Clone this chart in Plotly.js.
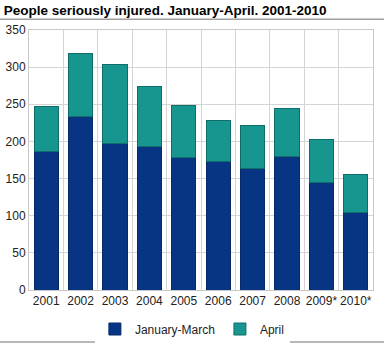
<!DOCTYPE html>
<html>
<head>
<meta charset="utf-8">
<script src="https://cdn.plot.ly/plotly-3.0.1.min.js"></script>
<style>html,body{margin:0;padding:0;background:#fff;}#chart{width:384px;height:355px;}</style>
</head>
<body>
<div id="chart"></div>
<script>
const years = ["2001","2002","2003","2004","2005","2006","2007","2008","2009*","2010*"];
const janMarch = [186, 233, 197, 193, 179, 173, 163, 180, 145, 104];
const april = [61, 85, 106, 81, 69, 55, 59, 64, 58, 52];
const yTicks = [0, 50, 100, 150, 200, 250, 300, 350];

const traces = [
  {type:"bar", name:"January-March", x:years, y:janMarch,
   marker:{color:"#083583", line:{color:"#062a66", width:1}}},
  {type:"bar", name:"April", x:years, y:april,
   marker:{color:"#179690", line:{color:"#0f6e69", width:1}}}
];

const layout = {
  width:384, height:355,
  margin:{l:29, r:11, t:30, b:57},
  barmode:"stack", bargap:0.3,
  paper_bgcolor:"#fff", plot_bgcolor:"#fff",
  font:{family:"Liberation Sans, Arial, sans-serif", size:12, color:"#222"},
  title:{text:"<b>People seriously injured. January-April. 2001-2010</b>",
         font:{size:13.5, color:"#000"}, x:0.01, xanchor:"left", xref:"container",
         y:0.972, yanchor:"middle", yref:"container"},
  xaxis:{type:"category", tickson:"boundaries", showgrid:true, gridcolor:"#d4d4d4", gridwidth:1,
         ticks:"", tickangle:0, showline:true, linecolor:"#c8c8c8", mirror:true,
         tickfont:{size:12}, fixedrange:true, automargin:false},
  yaxis:{range:[0,350], tickvals:yTicks, showgrid:true, gridcolor:"#d4d4d4", gridwidth:1,
         zeroline:false, showline:true, linecolor:"#c8c8c8", mirror:true, ticks:"", ticklen:0,
         tickfont:{size:12}, fixedrange:true, automargin:false},
  legend:{orientation:"h", x:0.475, xanchor:"center", y:-0.15, yanchor:"middle",
          font:{size:12}, traceorder:"normal"},
  showlegend:true,
  shapes:[
    {type:"line", xref:"paper", yref:"paper", x0:-0.0843, x1:1.032, y0:1.041, y1:1.041,
     line:{color:"#a0a0a0", width:1.5}},
    {type:"line", xref:"paper", yref:"paper", x0:-0.0843, x1:1.032, y0:-0.2, y1:-0.2,
     line:{color:"#a0a0a0", width:1.5}}
  ]
};

Plotly.newPlot("chart", traces, layout, {displayModeBar:false, staticPlot:true});
</script>
</body>
</html>
